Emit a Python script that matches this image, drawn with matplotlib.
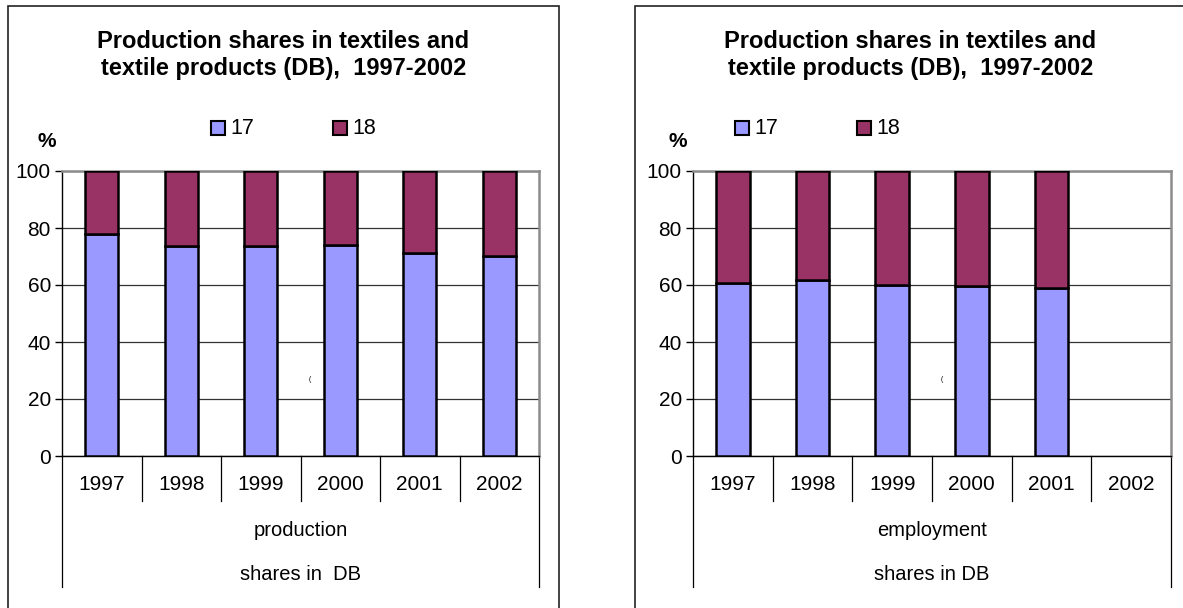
import numpy as np
import matplotlib.pyplot as plt
import matplotlib.transforms as mtransforms
from matplotlib.patches import Rectangle
from matplotlib.lines import Line2D

plt.rcParams["font.family"] = ["Liberation Sans", "DejaVu Sans"]

years = ["1997", "1998", "1999", "2000", "2001", "2002"]
series_names = ["17", "18"]

# share of sector 17 (textiles); sector 18 fills the rest up to 100 %
production_17 = [78.0, 73.7, 73.7, 74.0, 71.3, 70.3]
employment_17 = [60.7, 61.7, 59.9, 59.5, 58.9, np.nan]

title = "Production shares in textiles and\ntextile products (DB),  1997-2002"
group_labels = [("production", "shares in  DB"), ("employment", "shares in DB")]

C17 = "#9999FF"
C18 = "#993366"

W, H = 1183, 608
fig = plt.figure(figsize=(W / 100, H / 100), dpi=100)


def px_box(x0, y0, x1, y1):
    # pixel box (top-left origin) -> figure fraction rect
    return [x0 / W, 1 - y1 / H, (x1 - x0) / W, (y1 - y0) / H]


def draw_panel(frame, plot, vals17, labels, legend_x):
    fx0, fy0, fx1, fy1 = frame
    fig.patches.append(Rectangle((fx0 / W, 1 - fy1 / H), (fx1 - fx0) / W, (fy1 - fy0) / H,
                                 transform=fig.transFigure, fill=False,
                                 edgecolor="#222222", linewidth=1.2))
    cx = (fx0 + 551 / 2)
    fig.text(cx / W, 1 - 55 / H, title, ha="center", va="center", fontsize=17,
             fontweight="bold", linespacing=1.22)

    # legend drawn by hand: square + label
    for i, (name, col) in enumerate(zip(series_names, [C17, C18])):
        lx = legend_x + i * 122
        fig.patches.append(Rectangle((lx / W, 1 - 135 / H), 14 / W, 14 / H,
                                     transform=fig.transFigure, facecolor=col,
                                     edgecolor="black", linewidth=1.5))
        fig.text((lx + 19) / W, 1 - 128 / H, name, ha="left", va="center", fontsize=15.5)

    ax = fig.add_axes(px_box(*plot))
    x = np.arange(len(years))
    v17 = np.array(vals17)
    v18 = 100 - v17
    ax.bar(x, v17, width=0.42, color=C17, edgecolor="black", linewidth=1.8, zorder=3)
    ax.bar(x, v18, width=0.42, bottom=v17, color=C18, edgecolor="black", linewidth=1.8, zorder=3)

    ax.set_xlim(-0.5, len(years) - 0.5)
    ax.set_ylim(0, 100)
    ax.set_yticks(range(0, 101, 20))
    ax.tick_params(axis="y", length=5, width=1, labelsize=15, pad=3)
    ax.set_xticks([])
    ax.yaxis.grid(True, color="#333333", linewidth=0.9, zorder=0)
    ax.set_axisbelow(True)
    for side in ["top", "right"]:
        ax.spines[side].set_color("#8c8c8c")
        ax.spines[side].set_linewidth(1.8)
    for side in ["left", "bottom"]:
        ax.spines[side].set_color("black")
        ax.spines[side].set_linewidth(1.0)

    pw = plot[2] - plot[0]
    ax.text(-15 / pw, 1.102, "%", transform=ax.transAxes, ha="center", va="center",
            fontsize=15, fontweight="bold")

    # category separators and labels below the axis
    ph = plot[3] - plot[1]
    tr = mtransforms.blended_transform_factory(ax.transData, ax.transAxes)
    for k in range(len(years) + 1):
        bottom = -(587 - plot[3]) / ph if k in (0, len(years)) else -(501 - plot[3]) / ph
        ax.add_line(Line2D([k - 0.5, k - 0.5], [0, bottom], transform=tr, color="black",
                           linewidth=0.9, clip_on=False))
    for k, yr in enumerate(years):
        ax.text(k, -29 / ph, yr, transform=tr, ha="center", va="center", fontsize=15)
    ax.text(0.5, -(530 - plot[3]) / ph, labels[0], transform=ax.transAxes,
            ha="center", va="center", fontsize=14.5)
    ax.text(0.5, -(574 - plot[3]) / ph, labels[1], transform=ax.transAxes,
            ha="center", va="center", fontsize=14.5)
    ax.text(0.52, 0.27, "(", transform=ax.transAxes, ha="center", va="center", fontsize=5)
    return ax


draw_panel((8, 6, 559, 640), (62, 171, 539, 456), production_17, group_labels[0], 211)
draw_panel((635, 6, 1190, 640), (693, 171, 1171, 456), employment_17, group_labels[1], 735)

fig.savefig("out.png", dpi=100)
